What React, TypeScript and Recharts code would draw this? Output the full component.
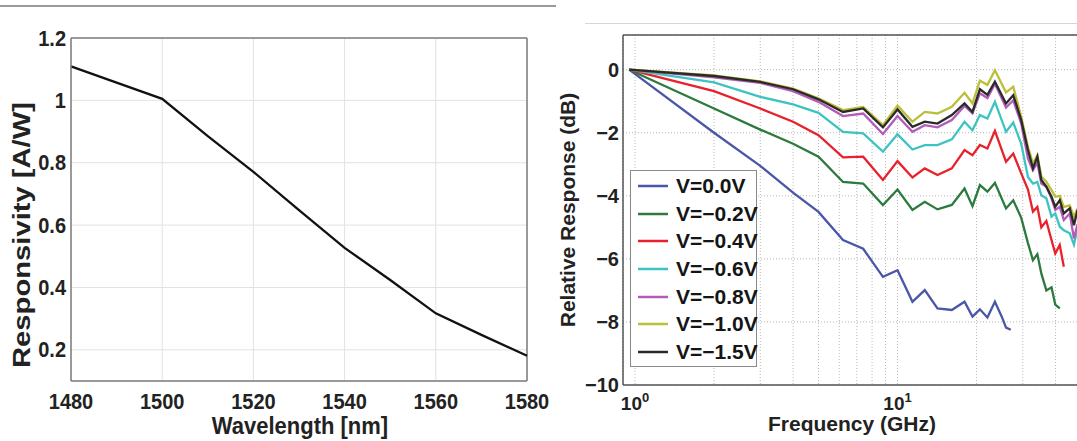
import React from "react";
import { LineChart, Line, XAxis, YAxis, CartesianGrid, ReferenceLine, Legend } from "recharts";

const FONT = '"Liberation Sans", Arial, Helvetica, sans-serif';

// ---------- Left chart: responsivity vs wavelength ----------
const wavelengths = [1480, 1490, 1500, 1510, 1520, 1530, 1540, 1550, 1560, 1570, 1580];
const responsivity = [1.109, 1.057, 1.005, 0.885, 0.771, 0.648, 0.527, 0.424, 0.317, 0.248, 0.181];
const wavelengthTicks = [1480, 1500, 1520, 1540, 1560, 1580];
const responsivityTicks = [0.2, 0.4, 0.6, 0.8, 1, 1.2];

// ---------- Right chart: relative response vs frequency ----------
const frequencies = [0.95, 2, 3, 4, 5, 6.2, 7.4, 8.8, 10, 11.4, 12.7, 14.2, 16.1, 18, 19.3, 20.6, 22, 23.5, 25, 25.9, 27, 27.6, 29.6, 31.4, 32.8, 34.1, 35.3, 36.9, 38.6, 39.9, 41.5, 43, 45.3, 47, 48.5];
const v00 = [0, -2.0, -3.05, -3.9, -4.51, -5.4, -5.68, -6.57, -6.36, -7.36, -6.99, -7.57, -7.62, -7.36, -7.83, -7.6, -7.86, -7.36, -7.85, -8.18, -8.25, null, null, null, null, null, null, null, null, null, null, null, null, null, null];
const v02 = [0, -1.23, -1.9, -2.35, -2.76, -3.56, -3.61, -4.29, -3.8, -4.45, -4.19, -4.43, -4.29, -3.77, -4.33, -3.66, -3.87, -3.59, null, -4.4, null, -4.14, -4.7, -5.5, -6.04, -5.85, -6.46, -7.0, -6.9, -7.45, -7.57, null, null, null, null];
const v04 = [0, -0.68, -1.23, -1.65, -2.08, -2.78, -2.76, -3.5, -2.9, -3.42, -3.13, -3.34, -3.13, -2.55, -2.71, -2.39, -2.5, -1.94, null, -2.92, null, -2.66, -3.29, -3.8, -4.5, -4.35, -5.0, -4.8, -5.4, -5.83, -5.56, -6.25, null, null, null];
const v06 = [0, -0.4, -0.86, -1.1, -1.37, -1.97, -2.02, -2.6, -2.05, -2.53, -2.39, -2.39, -2.21, -1.65, -1.92, -1.44, -1.55, -1.02, null, -1.97, null, -1.68, -2.35, -3.4, -3.61, -3.56, -3.98, -4.08, -4.66, -4.56, -4.98, -5.09, -5.19, -5.55, -5.03];
const v08 = [0, -0.24, -0.42, -0.68, -1.02, -1.47, -1.39, -2.04, -1.47, -1.97, -1.76, -1.83, -1.6, -1.15, -1.38, -0.75, -0.9, -0.45, null, -1.2, null, -0.97, -1.71, -2.82, -3.19, -2.95, -3.61, -3.71, -4.08, -4.45, -4.35, -4.77, -4.56, -5.35, -4.9];
const v10 = [0, -0.18, -0.37, -0.6, -0.91, -1.28, -1.18, -1.76, -1.14, -1.65, -1.34, -1.39, -1.18, -0.73, -1.07, -0.35, -0.48, -0.02, null, -0.72, null, -0.54, -1.49, -2.45, -2.97, -2.71, -3.39, -3.55, -3.82, -4.03, -4.0, -4.35, -4.3, -4.66, -4.4];
const v15 = [0, -0.2, -0.39, -0.62, -0.94, -1.34, -1.23, -1.83, -1.26, -1.81, -1.65, -1.71, -1.44, -1.07, -1.34, -0.62, -0.8, -0.38, null, -1.07, null, -0.81, -1.6, -2.55, -3.13, -2.76, -3.5, -3.71, -4.03, -4.35, -4.14, -4.56, -4.4, -4.93, -4.45];
const seriesNames = ["V=0.0V", "V=\u22120.2V", "V=\u22120.4V", "V=\u22120.6V", "V=\u22120.8V", "V=\u22121.0V", "V=\u22121.5V"];
const seriesColors = ["#4a56a8", "#2c7a3e", "#e8212b", "#3ec3c3", "#b05cb8", "#bcbf3a", "#2a2a2a"];
const seriesValues = [v00, v02, v04, v06, v08, v10, v15];
const freqTicks = [1, 2, 3, 4, 5, 6, 7, 8, 9, 10, 20, 30, 40, 50];
const responseTicks = [-10, -8, -6, -4, -2, 0];

const respData = wavelengths.map((wl, i) => ({ wl, r: responsivity[i] }));
const freqData = frequencies.map((f, i) => {
  const row: any = { f };
  seriesValues.forEach((vals, k) => {
    row["s" + k] = vals[i];
  });
  return row;
});

const LeftXTick = (props: any) => {
  const { x, y, payload } = props;
  return (
    <g transform={`translate(${x},${y + 28}) scale(1,1.1)`}>
      <text textAnchor="middle" fontFamily={FONT} fontWeight="bold" fontSize={20} fill="#222">
        {payload.value}
      </text>
    </g>
  );
};

const LeftYTick = (props: any) => {
  const { x, y, payload } = props;
  return (
    <g transform={`translate(${x - 5},${y + 7.6}) scale(1,1.1)`}>
      <text textAnchor="end" fontFamily={FONT} fontWeight="bold" fontSize={20} fill="#222">
        {String(payload.value)}
      </text>
    </g>
  );
};

const LogTick = (props: any) => {
  const { x, y, payload } = props;
  const v = payload.value;
  if (v !== 1 && v !== 10) return <g />;
  const exp = v === 1 ? "0" : "1";
  return (
    <text x={x} y={y + 25} textAnchor="middle" fontFamily={FONT} fontWeight="bold" fontSize={19} fill="#222">
      <tspan>10</tspan>
      <tspan dy={-8} fontSize={13}>{exp}</tspan>
    </text>
  );
};

const RightYTick = (props: any) => {
  const { x, y, payload } = props;
  const v = payload.value;
  const s = v < 0 ? "\u2212" + Math.abs(v) : String(v);
  return (
    <text x={x - 4} y={y + 7} textAnchor="end" fontFamily={FONT} fontWeight="bold" fontSize={20} fill="#222">
      {s}
    </text>
  );
};

const leftXLabel = () => (
  <g transform="translate(300,434) scale(1,1.08)">
    <text textAnchor="middle" fontFamily={FONT} fontWeight="bold" fontSize={22} fill="#222">
      Wavelength [nm]
    </text>
  </g>
);

const leftYLabel = () => (
  <g transform="translate(29.5,235) scale(1,1.27) rotate(-90)">
    <text textAnchor="middle" fontFamily={FONT} fontWeight="bold" fontSize={23} fill="#222">
      Responsivity [A/W]
    </text>
  </g>
);

const RIGHT_LEFT = 545;

const rightXLabel = () => (
  <text x={852 - RIGHT_LEFT} y={431} textAnchor="middle" fontFamily={FONT} fontWeight="bold" fontSize={21} fill="#222">
    Frequency (GHz)
  </text>
);

const rightYLabel = () => (
  <g transform={`translate(${575 - RIGHT_LEFT},210) rotate(-90)`}>
    <text textAnchor="middle" fontFamily={FONT} fontWeight="bold" fontSize={21} fill="#222">
      Relative Response (dB)
    </text>
  </g>
);

const renderLegend = () => (
  <div
    style={{
      width: 127,
      height: 197,
      boxSizing: "border-box",
      border: "1px solid #8a8a8a",
      background: "#fff",
      paddingTop: 1,
    }}
  >
    {seriesNames.map((n, i) => (
      <div key={n} style={{ height: 27.7, display: "flex", alignItems: "center" }}>
        <svg width={39} height={6} style={{ marginLeft: 6, flex: "none" }}>
          <line x1={1} x2={31} y1={3} y2={3} stroke={seriesColors[i]} strokeWidth={2.5} />
        </svg>
        <span style={{ fontFamily: FONT, fontWeight: "bold", fontSize: 21, color: "#151515", whiteSpace: "nowrap", lineHeight: "22px" }}>
          {n}
        </span>
      </div>
    ))}
  </div>
);

export default function App() {
  return (
    <div
      style={{
        position: "fixed",
        left: 0,
        top: 0,
        width: 1077,
        height: 441,
        overflow: "hidden",
        background: "#fff",
      }}
    >
      <div style={{ position: "absolute", left: 0, top: 5, width: 556, height: 1.5, background: "#9a9a9a" }} />
      <div style={{ position: "absolute", left: 585, top: 23, width: 492, height: 1, background: "#d6d6d6" }} />

      <div style={{ position: "absolute", left: 0, top: 0 }}>
        <LineChart width={560} height={441} data={respData} margin={{ top: 38, right: 33, bottom: 0, left: 0 }}>
          <CartesianGrid stroke="#e2e2e2" strokeWidth={1} />
          <XAxis
            dataKey="wl"
            type="number"
            domain={[1480, 1580]}
            ticks={wavelengthTicks}
            interval={0}
            height={60}
            tickSize={0}
            tickMargin={0}
            tickLine={false}
            tick={LeftXTick}
            axisLine={{ stroke: "#7c7c7c", strokeWidth: 1.5 }}
            label={leftXLabel}
          />
          <YAxis
            type="number"
            domain={[0.1, 1.2]}
            ticks={responsivityTicks}
            interval={0}
            width={71}
            tickSize={0}
            tickMargin={0}
            tickLine={false}
            tick={LeftYTick}
            axisLine={{ stroke: "#7c7c7c", strokeWidth: 1.5 }}
            label={leftYLabel}
          />
          <ReferenceLine y={1.2} stroke="#7c7c7c" strokeWidth={1.5} />
          <ReferenceLine x={1580} stroke="#7c7c7c" strokeWidth={1.5} />
          <Line dataKey="r" type="linear" stroke="#111" strokeWidth={2.3} dot={false} isAnimationActive={false} />
        </LineChart>
      </div>

      <div style={{ position: "absolute", left: RIGHT_LEFT, top: 0 }}>
        <LineChart width={1081 - RIGHT_LEFT} height={441} data={freqData} margin={{ top: 35, right: 0, bottom: 0, left: 0 }}>
          <CartesianGrid stroke="#b8b8b8" strokeDasharray="1 2" />
          <XAxis
            dataKey="f"
            type="number"
            scale="log"
            domain={[0.9, 50]}
            allowDataOverflow
            ticks={freqTicks}
            interval={0}
            height={56}
            tickSize={0}
            tickMargin={0}
            tickLine={false}
            tick={LogTick}
            axisLine={{ stroke: "#555", strokeWidth: 1.5 }}
            label={rightXLabel}
          />
          <YAxis
            type="number"
            domain={[-10, 1.1]}
            allowDataOverflow
            ticks={responseTicks}
            interval={0}
            width={623 - RIGHT_LEFT}
            tickSize={0}
            tickMargin={0}
            tickLine={false}
            tick={RightYTick}
            axisLine={{ stroke: "#555", strokeWidth: 1.5 }}
            label={rightYLabel}
          />
          <ReferenceLine y={1.1} stroke="#555" strokeWidth={1.5} />
          <Legend
            content={renderLegend}
            layout="horizontal"
            verticalAlign="middle"
            align="center"
            wrapperStyle={{ left: 630 - RIGHT_LEFT, top: 170, width: 127, height: 197 }}
          />
          {seriesNames.map((n, k) => (
            <Line
              key={n}
              name={n}
              dataKey={"s" + k}
              type="linear"
              stroke={seriesColors[k]}
              strokeWidth={2.3}
              dot={false}
              connectNulls
              isAnimationActive={false}
            />
          ))}
        </LineChart>
      </div>
    </div>
  );
}
